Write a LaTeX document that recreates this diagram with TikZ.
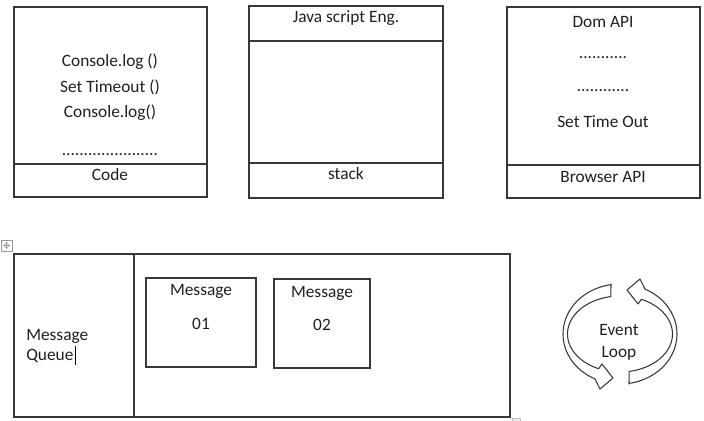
\documentclass[tikz,border=0pt]{standalone}
\usepackage{fontspec}
\setmainfont{Carlito}
\usetikzlibrary{arrows.meta}
\begin{document}
\begin{tikzpicture}[x=0.75pt,y=-0.75pt,
  panel/.style={draw=black!78, line width=0.8pt},
  txt/.style={font=\fontsize{13pt}{15pt}\selectfont, text=black!88, inner sep=0pt, anchor=base},
  cyclearrow/.style={draw=black!78, line width=0.8pt, fill=white, line join=round},
  handle/.style={draw=black!40, line width=0.5pt}]
\useasboundingbox (0,0) rectangle (704,421);

% --- Code panel ---
\draw[panel] (14,7) rectangle (207,197);
\draw[panel] (14,164) -- (207,164);
\node[txt] (log1)     at (110,66)  {Console.log ()};
\node[txt] (timeout)  at (110,92)  {Set Timeout ()};
\node[txt] (log2)     at (110,117) {Console.log()};
\node[txt] (codedots) at (110,155) {......................};
\node[txt] (code)     at (110,180) {Code};

% --- JavaScript engine panel ---
\draw[panel] (249,6) rectangle (443,198);
\draw[panel] (249,41) -- (443,41);
\draw[panel] (249,163) -- (443,163);
\node[txt] (engine) at (346,22)  {Java script Eng.};
\node[txt] (stack)  at (346,179) {stack};

% --- Browser API panel ---
\draw[panel] (507,7) rectangle (700,198);
\draw[panel] (507,165) -- (700,165);
\node[txt] (dom)     at (603,27)  {Dom API};
\node[txt] (domdots) at (603,58)  {...........};
\node[txt] (apidots) at (603,91)  {............};
\node[txt] (settime) at (603,127) {Set Time Out};
\node[txt] (browser) at (603,182) {Browser API};

% --- Message queue table ---
\draw[handle, fill=white] (1,240) rectangle (12,251);
\draw[handle, {Stealth[length=1.6pt,width=2pt]}-{Stealth[length=1.6pt,width=2pt]}] (3,245.5) -- (10,245.5);
\draw[handle, {Stealth[length=1.6pt,width=2pt]}-{Stealth[length=1.6pt,width=2pt]}] (6.5,242) -- (6.5,249);
\draw[panel] (14,254) rectangle (510,417);
\draw[panel] (134,254) -- (134,417);
\draw[draw=black!25, fill=black!6] (512,418) rectangle (520,426);
\node[txt, anchor=base west] (qmsg)  at (26,340) {Message};
\node[txt, anchor=base west] (queue) at (26,360) {Queue};
\draw[black, line width=0.9pt] (queue.base east) ++(2,5) -- ++(0,-19);

\draw[panel] (146,278) rectangle (256,367);
\node[txt] (m1)  at (201,295) {Message};
\node[txt] (m1n) at (201,329) {01};
\draw[panel] (274,279) rectangle (370,368);
\node[txt] (m2)  at (322,297) {Message};
\node[txt] (m2n) at (322,330) {02};

% --- Event loop: two curved block arrows ---
\path[cyclearrow] (611,284)
  -- plot[domain=261:116, samples=40, smooth] ({620+57*cos(\x)},{334+50*sin(\x)})
  -- (600,389) -- (613,378) -- (602,364)
  -- plot[domain=114:260, samples=40, smooth] ({620+52.5*cos(\x)},{334+38*sin(\x)})
  -- cycle;
\begin{scope}[rotate around={180:(620,334)}]
\path[cyclearrow] (611,284)
  -- plot[domain=261:116, samples=40, smooth] ({620+57*cos(\x)},{334+50*sin(\x)})
  -- (600,389) -- (613,378) -- (602,364)
  -- plot[domain=114:260, samples=40, smooth] ({620+52.5*cos(\x)},{334+38*sin(\x)})
  -- cycle;
\end{scope}
\node[txt] (event) at (619,335) {Event};
\node[txt] (loopl) at (619,357) {Loop};
\end{tikzpicture}
\end{document}
